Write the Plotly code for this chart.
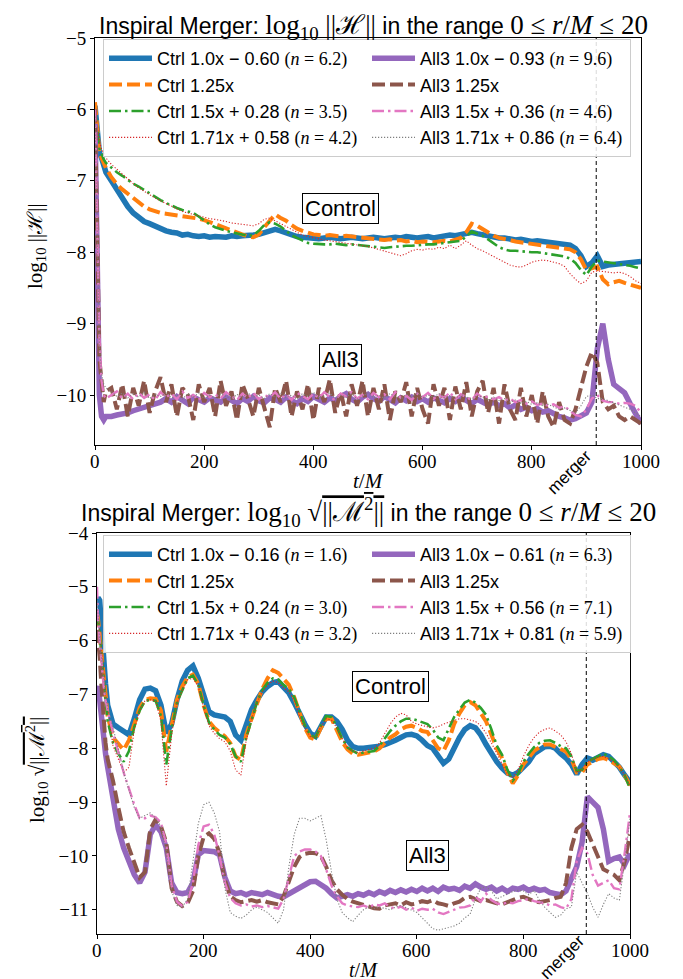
import plotly.graph_objects as go

# ---------------- data ----------------
t = [0, 2, 5, 8, 12, 16, 20] + list(range(30, 1001, 10))
t_merger = 918
x_ticks = [0, 200, 400, 600, 800, 1000]
x_tick_labels = ["0", "200", "400", "600", "800", "1000"]

# Top panel: log10 ||H||
h_ctrl_100 = [-5.95, -6.15, -6.45, -6.6, -6.68, -6.78, -6.88,
    -7.0, -7.12, -7.25, -7.36, -7.45, -7.52, -7.57, -7.6, -7.64, -7.67,
    -7.7, -7.72, -7.73, -7.76, -7.75, -7.77, -7.78, -7.77, -7.79, -7.78,
    -7.78, -7.79, -7.77, -7.78, -7.77, -7.77, -7.76, -7.75, -7.73, -7.7,
    -7.68, -7.7, -7.73, -7.76, -7.78, -7.79, -7.8, -7.8, -7.81, -7.8,
    -7.79, -7.8, -7.81, -7.8, -7.79, -7.8, -7.81, -7.8, -7.79, -7.8,
    -7.81, -7.8, -7.79, -7.8, -7.78, -7.79, -7.8, -7.79, -7.78, -7.8,
    -7.79, -7.77, -7.76, -7.77, -7.75, -7.74, -7.72, -7.74, -7.76, -7.77,
    -7.79, -7.8, -7.8, -7.82, -7.83, -7.82, -7.83, -7.85, -7.84, -7.85,
    -7.86, -7.86, -7.87, -7.88, -7.9, -7.95, -8.05, -8.2, -8.15, -8.05,
    -8.2, -8.18, -8.17, -8.16, -8.15, -8.15, -8.14, -8.13]
h_ctrl_125 = [-5.9, -6.1, -6.4, -6.6, -6.68, -6.75, -6.82,
    -6.95, -7.05, -7.12, -7.18, -7.25, -7.3, -7.36, -7.4, -7.43, -7.45,
    -7.46, -7.47, -7.48, -7.49, -7.5, -7.52, -7.53, -7.55, -7.58, -7.6,
    -7.63, -7.66, -7.7, -7.73, -7.76, -7.78, -7.79, -7.75, -7.65, -7.56,
    -7.47, -7.52, -7.56, -7.62, -7.67, -7.7, -7.73, -7.75, -7.76, -7.77,
    -7.76, -7.77, -7.78, -7.77, -7.78, -7.79, -7.8, -7.81, -7.82, -7.82,
    -7.83, -7.82, -7.84, -7.83, -7.85, -7.84, -7.86, -7.85, -7.86, -7.86,
    -7.85, -7.84, -7.85, -7.83, -7.8, -7.72, -7.6, -7.63, -7.68, -7.72,
    -7.77, -7.8, -7.81, -7.83, -7.85, -7.86, -7.88, -7.89, -7.9, -7.91,
    -7.92, -7.93, -7.94, -7.95, -7.96, -8.0, -8.1, -8.25, -8.22, -8.2,
    -8.38, -8.45, -8.42, -8.4, -8.43, -8.45, -8.47, -8.5]
h_ctrl_150 = [-6.0, -6.15, -6.4, -6.55, -6.62, -6.7, -6.75,
    -6.82, -6.88, -6.93, -6.99, -7.04, -7.08, -7.13, -7.18, -7.22, -7.27,
    -7.31, -7.35, -7.38, -7.41, -7.43, -7.45, -7.5, -7.56, -7.61, -7.65,
    -7.68, -7.7, -7.72, -7.74, -7.76, -7.77, -7.76, -7.7, -7.62, -7.58,
    -7.6, -7.64, -7.7, -7.76, -7.8, -7.84, -7.87, -7.88, -7.89, -7.89,
    -7.89, -7.88, -7.89, -7.9, -7.89, -7.9, -7.91, -7.92, -7.93, -7.93,
    -7.94, -7.93, -7.92, -7.92, -7.91, -7.91, -7.9, -7.9, -7.89, -7.89,
    -7.88, -7.88, -7.87, -7.86, -7.84, -7.78, -7.71, -7.74, -7.77, -7.82,
    -7.88, -7.93, -7.96, -7.98, -7.98, -7.99, -7.99, -8.0, -8.0, -8.01,
    -8.02, -8.03, -8.04, -8.06, -8.09, -8.15, -8.25, -8.32, -8.2, -8.12,
    -8.13, -8.14, -8.15, -8.16, -8.17, -8.19, -8.21, -8.23]
h_ctrl_171 = [-6.0, -6.1, -6.3, -6.45, -6.55, -6.62, -6.68,
    -6.77, -6.84, -6.91, -6.98, -7.04, -7.1, -7.15, -7.2, -7.24, -7.28,
    -7.32, -7.36, -7.4, -7.43, -7.45, -7.47, -7.5, -7.52, -7.53, -7.54,
    -7.55, -7.57, -7.59, -7.6, -7.61, -7.62, -7.63, -7.6, -7.54, -7.52,
    -7.56, -7.6, -7.64, -7.68, -7.72, -7.76, -7.78, -7.8, -7.82, -7.83,
    -7.84, -7.85, -7.86, -7.87, -7.88, -7.89, -7.9, -7.92, -7.94, -7.96,
    -7.98, -8.0, -8.03, -8.05, -8.02, -7.98, -7.96, -7.97, -7.95, -7.96,
    -7.93, -7.95, -7.9, -7.95, -7.9, -7.84, -7.9, -7.95, -7.98, -8.02,
    -8.07, -8.1, -8.14, -8.18, -8.2, -8.21, -8.18, -8.14, -8.12, -8.11,
    -8.12, -8.14, -8.16, -8.2, -8.3, -8.38, -8.44, -8.4, -8.28, -8.26,
    -8.27, -8.28, -8.29, -8.28, -8.3, -8.34, -8.4, -8.44]
h_all3_100 = [-6.2, -7.5, -9.0, -10.0, -10.3, -10.35, -10.3,
    -10.3, -10.28, -10.27, -10.25, -10.22, -10.2, -10.18, -10.15, -10.12, -10.1,
    -10.05, -10.1, -10.02, -10.08, -10.12, -10.03, -10.07, -10.1, -10.04, -10.08,
    -10.1, -10.03, -10.07, -10.12, -10.05, -10.09, -10.02, -10.08, -10.11, -10.04,
    -10.06, -10.1, -10.03, -10.08, -10.12, -10.05, -10.09, -10.02, -10.07, -10.1,
    -10.04, -10.08, -10.02, -9.98, -10.06, -10.1, -10.03, -9.99, -10.05, -10.09,
    -10.02, -10.07, -10.11, -10.04, -10.08, -10.03, -10.09, -10.05, -10.1, -10.04,
    -10.07, -10.11, -10.05, -10.09, -10.03, -10.08, -10.12, -10.06, -10.1, -10.14,
    -10.1, -10.15, -10.12, -10.18, -10.14, -10.2, -10.17, -10.22, -10.19, -10.24,
    -10.22, -10.27, -10.3, -10.32, -10.35, -10.33, -10.3, -10.25, -10.1, -9.35,
    -9.0, -9.5, -9.85, -9.92, -9.97, -10.12, -10.28, -10.4]
h_all3_125 = [-6.0, -7.0, -8.5, -9.5, -9.8, -10.1, -9.95,
    -9.9, -10.2, -9.85, -10.3, -9.9, -10.15, -9.8, -10.25, -9.95, -9.75,
    -10.1, -9.85, -10.3, -9.9, -10.0, -10.35, -9.85, -10.1, -9.9, -10.3,
    -9.8, -10.15, -9.95, -10.35, -9.85, -10.05, -10.3, -9.9, -10.2, -10.45,
    -9.9, -10.1, -9.8, -10.3, -9.95, -10.2, -9.85, -10.35, -9.9, -10.1,
    -9.78, -10.25, -9.95, -10.3, -9.85, -10.15, -9.8, -10.3, -9.9, -10.2,
    -9.85, -10.35, -9.95, -10.1, -9.82, -10.3, -9.9, -10.2, -10.4, -9.85,
    -10.15, -9.9, -10.35, -9.88, -10.2, -9.82, -10.3, -9.95, -9.8, -10.25,
    -9.9, -10.4, -9.85, -10.2, -10.35, -9.9, -10.3, -10.0, -10.4, -9.95,
    -10.3, -10.45, -10.1, -10.35, -10.4, -10.2, -9.9, -9.6, -9.4, -9.55,
    -10.1, -10.2, -10.15, -10.3, -10.35, -10.3, -10.35, -10.4]
h_all3_150 = [-6.0, -6.8, -8.0, -9.2, -9.8, -10.0, -10.05,
    -10.0, -9.95, -10.05, -9.98, -10.06, -9.97, -10.04, -9.99, -10.07, -9.96,
    -10.03, -9.98, -10.06, -9.95, -10.04, -10.0, -10.07, -9.97, -10.03, -9.99,
    -10.05, -9.96, -10.02, -10.07, -9.98, -10.04, -9.97, -10.06, -10.0, -10.03,
    -9.96, -10.05, -9.99, -10.07, -9.97, -10.02, -10.06, -9.98, -10.04, -9.96,
    -10.03, -10.07, -9.98, -10.02, -9.96, -10.05, -10.0, -10.06, -9.97, -10.03,
    -9.99, -10.06, -9.96, -10.04, -10.01, -10.07, -9.98, -10.03, -9.97, -10.05,
    -10.0, -10.04, -9.96, -10.06, -9.99, -10.03, -10.07, -9.98, -10.04, -10.02,
    -10.06, -10.03, -10.08, -10.05, -10.1, -10.07, -10.12, -10.09, -10.14, -10.12,
    -10.15, -10.13, -10.18, -10.16, -10.22, -10.28, -10.3, -10.2, -10.05, -10.0,
    -10.08, -10.1, -10.1, -10.12, -10.11, -10.12, -10.15, -10.25]
h_all3_171 = [-6.1, -6.9, -8.2, -9.3, -9.7, -9.85, -9.9,
    -9.95, -10.02, -9.97, -10.04, -9.98, -10.03, -9.96, -10.05, -9.99, -10.02,
    -9.97, -10.04, -10.0, -10.06, -9.98, -10.03, -9.97, -10.05, -10.0, -10.04,
    -9.98, -10.02, -10.06, -9.99, -10.04, -9.97, -10.03, -10.0, -10.05, -9.98,
    -10.03, -9.97, -10.04, -10.0, -10.06, -9.98, -10.02, -9.96, -10.04, -10.01,
    -9.97, -10.05, -10.0, -10.03, -9.98, -10.06, -10.01, -9.97, -10.04, -10.0,
    -10.05, -9.98, -10.02, -10.06, -9.99, -10.03, -9.97, -10.04, -10.0, -10.03,
    -9.98, -10.04, -10.01, -10.05, -9.99, -10.02, -10.06, -10.0, -10.04, -10.07,
    -10.03, -10.08, -10.05, -10.1, -10.07, -10.12, -10.09, -10.13, -10.11, -10.15,
    -10.13, -10.17, -10.2, -10.18, -10.22, -10.25, -10.15, -10.02, -10.0, -10.05,
    -10.05, -10.08, -10.12, -10.15, -10.18, -10.2, -10.25, -10.3]

# Bottom panel: log10 sqrt(||M^2||)
m_ctrl_100 = [-5.3, -5.2, -5.25, -5.75, -6.3, -6.8, -7.2,
    -7.55, -7.62, -7.7, -7.75, -7.45, -7.1, -6.9, -6.88, -6.93, -7.2,
    -7.72, -7.55, -7.1, -6.75, -6.55, -6.47, -6.7, -7.0, -7.32, -7.38,
    -7.4, -7.42, -7.5, -7.75, -7.85, -7.55, -7.28, -7.1, -6.95, -6.85,
    -6.78, -6.76, -6.85, -6.97, -7.15, -7.38, -7.55, -7.72, -7.78, -7.6,
    -7.42, -7.42, -7.5, -7.65, -7.85, -7.97, -8.0, -8.0, -7.99, -7.98,
    -7.96, -7.93, -7.9, -7.85, -7.8, -7.75, -7.74, -7.77, -7.85, -7.95,
    -8.0, -8.15, -8.28, -8.2, -7.98, -7.8, -7.65, -7.58, -7.62, -7.75,
    -7.93, -8.1, -8.25, -8.37, -8.46, -8.5, -8.45, -8.35, -8.25, -8.1,
    -8.02, -7.97, -7.96, -8.0, -8.1, -8.18, -8.3, -8.48, -8.3, -8.18,
    -8.22, -8.18, -8.12, -8.15, -8.25, -8.35, -8.5, -8.63]
m_ctrl_125 = [-5.5, -5.6, -5.9, -6.2, -6.6, -7.0, -7.4,
    -7.8, -7.92, -8.03, -7.85, -7.52, -7.25, -7.1, -7.07, -7.08, -7.3,
    -8.06, -7.6, -7.1, -6.85, -6.68, -6.63, -6.8, -7.2, -7.5, -7.62,
    -7.7, -7.78, -7.9, -8.15, -8.22, -7.75, -7.45, -7.15, -6.9, -6.7,
    -6.55, -6.6, -6.72, -6.82, -7.05, -7.35, -7.62, -7.8, -7.84, -7.62,
    -7.45, -7.45, -7.65, -7.88, -8.02, -8.1, -8.12, -8.1, -8.08, -8.06,
    -8.0, -7.9, -7.8, -7.74, -7.65, -7.6, -7.58, -7.62, -7.68, -7.7,
    -7.85, -8.0, -8.05, -7.85, -7.55, -7.35, -7.2, -7.14, -7.2, -7.35,
    -7.5, -7.75, -8.0, -8.18, -8.45, -8.65, -8.5, -8.3, -8.18, -8.05,
    -7.98, -7.93, -7.93, -7.98, -8.02, -8.06, -8.2, -8.45, -8.45, -8.3,
    -8.25, -8.2, -8.18, -8.22, -8.28, -8.34, -8.5, -8.69]
m_ctrl_150 = [-5.5, -5.6, -5.9, -6.2, -6.65, -7.1, -7.5,
    -7.9, -8.1, -8.25, -8.05, -7.6, -7.3, -7.12, -7.1, -7.12, -7.4,
    -8.3, -7.65, -7.15, -6.92, -6.7, -6.65, -6.82, -7.2, -7.52, -7.65,
    -7.75, -7.8, -7.92, -8.15, -8.25, -7.8, -7.45, -7.15, -6.92, -6.78,
    -6.7, -6.72, -6.82, -6.9, -7.05, -7.32, -7.58, -7.75, -7.8, -7.58,
    -7.4, -7.42, -7.6, -7.82, -7.98, -8.05, -8.1, -8.08, -8.06, -8.05,
    -7.95, -7.82, -7.68, -7.58, -7.5, -7.45, -7.45, -7.48, -7.52, -7.55,
    -7.65, -7.8, -7.85, -7.65, -7.42, -7.28, -7.15, -7.1, -7.15, -7.25,
    -7.38, -7.65, -7.95, -8.12, -8.4, -8.6, -8.48, -8.25, -8.1, -7.98,
    -7.9, -7.86, -7.85, -7.9, -7.96, -8.0, -8.15, -8.42, -8.4, -8.25,
    -8.2, -8.14, -8.1, -8.15, -8.22, -8.35, -8.5, -8.75]
m_ctrl_171 = [-5.5, -5.6, -5.85, -6.1, -6.5, -7.0, -7.3,
    -7.95, -8.2, -8.45, -8.35, -7.65, -7.3, -7.12, -7.1, -7.12, -7.5,
    -8.7, -7.75, -7.15, -6.93, -6.72, -6.7, -6.85, -7.25, -7.58, -7.72,
    -7.82, -7.88, -8.05, -8.4, -8.5, -7.85, -7.45, -7.15, -6.95, -6.82,
    -6.75, -6.78, -6.88, -6.95, -7.1, -7.4, -7.62, -7.78, -7.8, -7.6,
    -7.45, -7.48, -7.62, -7.82, -7.98, -8.05, -8.08, -8.05, -8.02, -8.0,
    -7.9, -7.72, -7.55, -7.42, -7.35, -7.38, -7.5, -7.55, -7.58, -7.6,
    -7.62, -7.6, -7.55, -7.52, -7.48, -7.45, -7.45, -7.48, -7.5, -7.58,
    -7.72, -7.9, -8.1, -8.3, -8.48, -8.55, -8.4, -8.15, -7.95, -7.8,
    -7.7, -7.65, -7.62, -7.68, -7.75, -7.88, -8.1, -8.45, -8.4, -8.25,
    -8.2, -8.16, -8.15, -8.2, -8.25, -8.35, -8.5, -8.7]
m_all3_100 = [-6.9, -6.85, -7.1, -7.45, -7.8, -8.1, -8.35,
    -8.9, -9.5, -9.85, -10.1, -10.35, -10.5, -10.3, -9.6, -9.42, -9.55,
    -9.85, -10.5, -10.68, -10.7, -10.68, -10.5, -9.98, -9.9, -9.9, -9.92,
    -9.98, -10.4, -10.65, -10.7, -10.68, -10.72, -10.68, -10.7, -10.72, -10.68,
    -10.72, -10.75, -10.76, -10.7, -10.64, -10.58, -10.52, -10.48, -10.47, -10.53,
    -10.6, -10.7, -10.78, -10.75, -10.72, -10.75, -10.7, -10.73, -10.68, -10.72,
    -10.66, -10.7, -10.64, -10.68, -10.63, -10.67, -10.62, -10.66, -10.6, -10.65,
    -10.6, -10.66, -10.58, -10.62, -10.6, -10.64, -10.56, -10.6, -10.52, -10.58,
    -10.62, -10.58, -10.65, -10.6, -10.66, -10.6, -10.62, -10.58, -10.64, -10.6,
    -10.64, -10.62, -10.68, -10.7, -10.72, -10.65, -10.45, -10.2, -9.75, -8.9,
    -9.0, -9.1, -9.5, -10.1, -10.05, -10.02, -10.16, -9.95]
m_all3_125 = [-5.8, -6.0, -6.3, -6.8, -7.4, -7.9, -8.2,
    -8.6, -9.1, -9.55, -9.85, -10.15, -10.4, -10.3, -9.5, -9.32, -9.45,
    -9.75, -10.6, -10.85, -10.93, -10.88, -10.65, -10.0, -9.65, -9.58, -9.68,
    -9.95, -10.45, -10.75, -10.82, -10.86, -10.84, -10.82, -10.85, -10.82, -10.86,
    -10.88, -10.9, -10.75, -10.45, -10.2, -10.02, -9.96, -9.94, -9.95, -10.0,
    -10.2, -10.45, -10.62, -10.72, -10.8, -10.85, -10.88, -10.92, -10.95, -10.97,
    -10.98, -10.92, -10.9, -10.88, -10.92, -10.86, -10.9, -10.88, -10.84, -10.86,
    -10.82, -10.88, -10.9, -10.93, -10.88, -10.85, -10.78, -10.76, -10.8, -10.84,
    -10.82, -10.86, -10.88, -10.9, -10.86, -10.82, -10.78, -10.76, -10.8, -10.84,
    -10.86, -10.84, -10.82, -10.78, -10.76, -10.5, -9.85, -9.5, -9.42, -9.55,
    -9.8, -10.05, -10.25, -10.3, -10.35, -10.45, -10.1, -9.6]
m_all3_150 = [-5.0, -5.6, -6.0, -6.4, -6.8, -7.1, -7.3,
    -7.7, -8.1, -8.45, -8.75, -9.05, -9.3, -9.3, -9.25, -9.28, -9.38,
    -9.8, -10.55, -10.85, -10.93, -10.85, -10.5, -9.8, -9.45, -9.42, -9.6,
    -10.0, -10.5, -10.78, -10.88, -10.92, -10.9, -10.94, -10.92, -10.95, -10.93,
    -10.96, -10.98, -10.8, -10.4, -10.0, -9.92, -9.88, -9.88, -9.92, -10.0,
    -10.25, -10.55, -10.75, -10.88, -10.92, -10.94, -10.95, -10.92, -10.96, -10.9,
    -10.92, -10.88, -10.95, -10.98, -10.94, -11.0, -10.96, -11.02, -10.98, -11.0,
    -10.98, -11.05, -11.08, -11.04, -11.0, -10.96, -10.95, -10.92, -10.75, -10.85,
    -10.7, -10.82, -10.88, -10.9, -10.86, -10.88, -10.84, -10.82, -10.8, -10.84,
    -10.86, -10.88, -10.92, -10.9, -10.95, -10.98, -10.8, -10.1, -9.85, -9.95,
    -10.35, -10.55, -10.5, -10.45, -10.6, -10.62, -9.95, -9.2]
m_all3_171 = [-5.2, -5.6, -6.0, -6.3, -6.7, -7.0, -7.25,
    -7.6, -8.0, -8.45, -8.8, -9.1, -9.3, -9.25, -9.2, -9.3, -9.45,
    -9.9, -10.65, -10.92, -10.95, -10.8, -10.1, -9.4, -9.05, -9.0, -9.2,
    -9.55, -10.6, -11.05, -11.12, -11.16, -11.1, -11.0, -10.95, -11.0, -11.05,
    -11.15, -11.25, -11.0, -10.2, -9.6, -9.3, -9.3, -9.35, -9.3, -9.25,
    -9.7, -10.3, -10.8, -11.05, -11.15, -11.22, -11.1, -11.0, -10.95, -10.98,
    -10.95, -10.98, -11.0, -10.95, -10.92, -10.96, -11.0, -11.05, -11.15, -11.25,
    -11.35, -11.38, -11.36, -11.33, -11.3, -11.25, -11.15, -11.08, -10.8, -10.6,
    -10.57, -10.65, -10.8, -10.75, -10.7, -10.66, -10.64, -10.65, -10.72, -10.64,
    -10.82, -10.95, -11.05, -11.14, -11.1, -10.98, -10.95, -10.3, -10.5, -10.7,
    -10.95, -11.14, -10.9, -10.7, -10.78, -10.82, -10.1, -9.3]

# legend labels
def mt(s, size=None):
    st = "font-family:'Liberation Serif'"
    if size:
        st += f";font-size:{size}px"
    return f'<span style="{st}">{s}</span>'

top_labels = [
    "Ctrl 1.0x − 0.60 " + mt("(<i>n</i> = 6.2)"),
    "Ctrl 1.25x",
    "Ctrl 1.5x + 0.28 " + mt("(<i>n</i> = 3.5)"),
    "Ctrl 1.71x + 0.58 " + mt("(<i>n</i> = 4.2)"),
    "All3 1.0x − 0.93 " + mt("(<i>n</i> = 9.6)"),
    "All3 1.25x",
    "All3 1.5x + 0.36 " + mt("(<i>n</i> = 4.6)"),
    "All3 1.71x + 0.86 " + mt("(<i>n</i> = 6.4)"),
]
bot_labels = [
    "Ctrl 1.0x − 0.16 " + mt("(<i>n</i> = 1.6)"),
    "Ctrl 1.25x",
    "Ctrl 1.5x + 0.24 " + mt("(<i>n</i> = 3.0)"),
    "Ctrl 1.71x + 0.43 " + mt("(<i>n</i> = 3.2)"),
    "All3 1.0x − 0.61 " + mt("(<i>n</i> = 6.3)"),
    "All3 1.25x",
    "All3 1.5x + 0.56 " + mt("(<i>n</i> = 7.1)"),
    "All3 1.71x + 0.81 " + mt("(<i>n</i> = 5.9)"),
]

top_series = [h_ctrl_100, h_ctrl_125, h_ctrl_150, h_ctrl_171,
              h_all3_100, h_all3_125, h_all3_150, h_all3_171]
bot_series = [m_ctrl_100, m_ctrl_125, m_ctrl_150, m_ctrl_171,
              m_all3_100, m_all3_125, m_all3_150, m_all3_171]
for s in top_series + bot_series:
    assert len(s) == len(t), len(s)

# styles: (color, width, dash)
styles = [
    ("#1f77b4", 5.5, "solid"),
    ("#ff7f0e", 4, "13px,5px"),
    ("#2ca02c", 2.6, "12px,4px,2.5px,4px"),
    ("#d62728", 1.1, "1.2px,1.8px"),
    ("#9467bd", 5.5, "solid"),
    ("#8c564b", 4, "13px,5px"),
    ("#e377c2", 2.4, "12px,4px,2.5px,4px"),
    ("#7f7f7f", 1.1, "1.2px,1.8px"),
]
ranks = [1, 3, 5, 7, 2, 4, 6, 8]

fig = go.Figure()
for i, (ys, lab) in enumerate(zip(top_series, top_labels)):
    c, w, d = styles[i]
    fig.add_trace(go.Scatter(x=t, y=ys, mode="lines", name=lab,
                             line=dict(color=c, width=w, dash=d),
                             xaxis="x", yaxis="y", legend="legend",
                             legendrank=ranks[i]))
for i, (ys, lab) in enumerate(zip(bot_series, bot_labels)):
    c, w, d = styles[i]
    fig.add_trace(go.Scatter(x=t, y=ys, mode="lines", name=lab,
                             line=dict(color=c, width=w, dash=d),
                             xaxis="x2", yaxis="y2", legend="legend2",
                             legendrank=ranks[i]))

W, H = 683, 979
def fx(px): return px / W
def fy(py): return 1 - py / H

TOP_AX = (30, 437)     # pixel top / bottom of upper axes
BOT_AX = (525, 926)    # pixel top / bottom of lower axes

tickfont = dict(family="Liberation Serif", size=19, color="black")
axcommon = dict(showgrid=False, zeroline=False, showline=True, linecolor="black",
                linewidth=1, mirror=True, ticks="outside", ticklen=4, tickwidth=1,
                tickcolor="black", tickfont=tickfont)

legcommon = dict(orientation="h", xanchor="left", yanchor="top",
                 bgcolor="rgba(255,255,255,0.85)", bordercolor="#cccccc", borderwidth=1,
                 font=dict(family="Liberation Sans", size=18, color="black"),
                 itemwidth=43, entrywidth=205, entrywidthmode="pixels",
                 traceorder="normal")

fig.update_layout(
    width=W, height=H, plot_bgcolor="white", paper_bgcolor="white",
    margin=dict(l=0, r=0, t=0, b=0, autoexpand=False),
    xaxis=dict(domain=[fx(87), fx(633)], range=[0, 1000], anchor="y",
               tickvals=x_ticks, showticklabels=False, **axcommon),
    yaxis=dict(domain=[fy(TOP_AX[1]), fy(TOP_AX[0])], range=[-10.7, -5], anchor="x",
               tickvals=[-5, -6, -7, -8, -9, -10], **axcommon),
    xaxis2=dict(domain=[fx(89), fx(622)], range=[0, 1000], anchor="y2",
                tickvals=x_ticks, showticklabels=False, **axcommon),
    yaxis2=dict(domain=[fy(BOT_AX[1]), fy(BOT_AX[0])], range=[-11.45, -4], anchor="x2",
                tickvals=[-4, -5, -6, -7, -8, -9, -10, -11], **axcommon),
    legend=dict(x=fx(95), y=fy(31), **legcommon),
    legend2=dict(x=fx(95), y=fy(527), **legcommon),
    showlegend=True,
)

sans = dict(family="Liberation Sans", size=23, color="black")
serif20 = dict(family="Liberation Serif", size=21, color="black")
C = dict(xanchor="center", yanchor="middle", showarrow=False)
ann = []
ann.append(dict(text="Inspiral Merger: " + mt("log<sub>10</sub> ||ℋ||", 27) +
                " in the range " + mt("0 ≤ <i>r</i>/<i>M</i> ≤ 20", 27),
                x=fx(365), y=1, xref="paper", yref="paper", font=sans,
                xanchor="center", yanchor="top", showarrow=False))
ann.append(dict(text="Inspiral Merger: " + mt("log<sub>10</sub> √<span style=\"text-decoration:overline\">||ℳ<sup>2</sup>||</span>", 27) +
                " in the range " + mt("0 ≤ <i>r</i>/<i>M</i> ≤ 20", 27),
                x=fx(360), y=fy(504), xref="paper", yref="paper", font=sans, **C))
ann.append(dict(text="log<sub>10</sub> ||ℋ||", x=fx(28), y=fy(238), xref="paper",
                yref="paper", textangle=-90, font=serif20, **C))
ann.append(dict(text="log<sub>10</sub> √<span style=\"text-decoration:overline\">||ℳ<sup>2</sup>||</span>",
                x=fx(28), y=fy(762), xref="paper",
                yref="paper", textangle=-90, font=serif20, **C))
ann.append(dict(text="<i>t</i>/<i>M</i>", x=fx(360), y=fy(TOP_AX[1] + 36), xref="paper",
                yref="paper", font=serif20, **C))
ann.append(dict(text="<i>t</i>/<i>M</i>", x=fx(355), y=fy(975), xref="paper",
                yref="paper", font=dict(family="Liberation Serif", size=20, color="black"),
                xanchor="center", yanchor="bottom", showarrow=False))
# x tick labels placed at the axis tick values
for xr, yr, (a0, a1) in [("x", "y domain", TOP_AX), ("x2", "y2 domain", BOT_AX)]:
    off = -16 / (a1 - a0)
    for v, lab in zip(x_ticks, x_tick_labels):
        ann.append(dict(text=lab, x=v, y=off, xref=xr, yref=yr, font=tickfont, **C))
boxfont = dict(family="Liberation Sans", size=22, color="black")
for (tx, ty, txt, xr, yr) in [(450, -7.39, "Control", "x", "y"), (450, -9.5, "All3", "x", "y"),
                              (550, -6.85, "Control", "x2", "y2"), (620, -10.0, "All3", "x2", "y2")]:
    ann.append(dict(text=txt, x=tx, y=ty, xref=xr, yref=yr, font=boxfont,
                    bgcolor="white", bordercolor="black", borderwidth=1, borderpad=2, **C))
mfont = dict(family="Liberation Sans", size=17, color="black")
ann.append(dict(text="merger", x=868, y=-27 / 407, xref="x", yref="y domain",
                textangle=-45, font=mfont, **C))
ann.append(dict(text="merger", x=872, y=-23 / 401, xref="x2", yref="y2 domain",
                textangle=-45, font=mfont, **C))
fig.update_layout(annotations=ann)

for xr, yr in [("x", "y domain"), ("x2", "y2 domain")]:
    fig.add_shape(type="line", x0=t_merger, x1=t_merger, y0=0, y1=1, xref=xr, yref=yr,
                  line=dict(color="black", width=1, dash="4px,3px"))

fig.write_html("out.html")
